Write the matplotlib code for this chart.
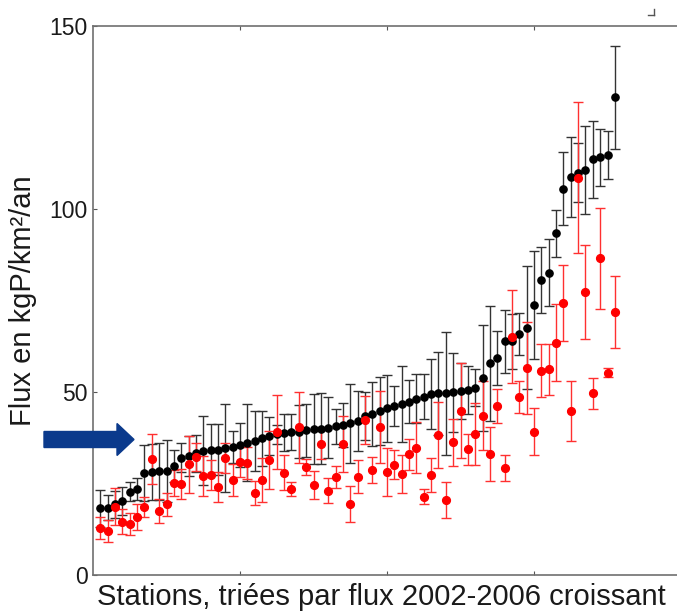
import numpy as np
import matplotlib
matplotlib.use("Agg")
import matplotlib.pyplot as plt
from matplotlib.patches import FancyArrow
from matplotlib.lines import Line2D

plt.rcParams['font.family'] = ['Liberation Sans', 'DejaVu Sans']

# stations sorted by 2002-2006 flux
stations = np.arange(1, 72)

flux_black = [18.2, 18.4, 19.3, 20.3, 22.8, 23.4, 27.8, 28.2, 28.4, 28.4,
              29.8, 32.1, 32.5, 33.2, 34.0, 34.2, 34.2, 34.6, 35.0, 35.5,
              36.1, 36.7, 37.3, 38.0, 38.4, 38.9, 39.0, 39.2, 39.5, 39.8,
              40.0, 40.3, 40.6, 41.0, 41.4, 42.0, 43.4, 44.0, 44.8, 45.5,
              46.2, 46.7, 47.4, 48.1, 48.7, 49.4, 49.6, 49.6, 49.9, 50.3,
              50.5, 51.2, 53.9, 57.8, 59.3, 63.8, 63.8, 65.8, 67.5, 73.8,
              80.6, 82.6, 93.4, 105.6, 108.7, 109.9, 110.7, 113.6, 114.1, 114.8,
              130.5]
err_black = [5, 3.5, 3.6, 3.8, 2.5, 3, 7.7, 7.7, 7.8, 8.5,
             4.4, 3.9, 5.5, 5, 9.5, 7, 7, 12, 4.3, 6,
             10.5, 8.2, 7.6, 5.3, 2.5, 5, 4.9, 7.3, 7.2, 9.6,
             9.6, 8.4, 4.8, 6, 10.7, 8.2, 6.6, 8.8, 9.4, 9.1,
             5.5, 10.4, 5.9, 6.7, 6.1, 9.6, 11.4, 16.9, 10.7, 7.6,
             6.6, 5, 14.5, 15.7, 7.3, 8.7, 7.4, 5.8, 16.8, 14.8,
             9.1, 9.2, 6.4, 10, 11, 8, 12, 10.5, 7.7, 6.6,
             14]

flux_red = [12.8, 12.1, 18.7, 14.6, 13.9, 15.9, 18.5, 31.6, 17.5, 19.3,
            25.1, 24.9, 30.2, 32.3, 27.0, 27.3, 24.1, 31.9, 26.0, 30.9,
            30.6, 22.4, 26.0, 31.4, 39.1, 27.9, 23.5, 40.4, 29.5, 24.6,
            35.8, 23.0, 26.8, 35.8, 19.4, 26.9, 42.3, 28.7, 40.5, 28.1,
            30.1, 27.6, 33.0, 34.8, 21.4, 27.3, 38.3, 20.5, 36.3, 44.9,
            34.3, 38.5, 43.5, 33.0, 46.2, 29.2, 65.1, 48.7, 56.5, 39.2,
            55.8, 56.2, 63.5, 74.2, 44.8, 108.6, 77.4, 49.6, 86.5, 55.3,
            71.9]
err_red = [3, 3, 5, 3.5, 3, 3.5, 2.7, 6.8, 3.4, 3.2,
           3.6, 4, 7.7, 3.9, 5.5, 4.1, 4.1, 4.1, 4.4, 4,
           4.3, 3.4, 6, 8, 10.2, 4.8, 2, 9.7, 2.3, 3.9,
           4, 3.4, 2.9, 7.7, 5, 4.5, 6.6, 3.6, 9.8, 6.6,
           4, 5.3, 4.2, 7, 2, 4.7, 9.1, 4.9, 6.4, 13,
           4.2, 8.4, 9.4, 7.4, 4.6, 3.6, 12.7, 4.4, 12.5, 6.5,
           7.3, 7, 10.6, 10.4, 8.3, 20.7, 12.9, 4.2, 13.9, 1.2,
           9.8]

fig = plt.figure(figsize=(6.77, 6.12), dpi=100)
ax = fig.add_axes([93/677, 37/612, 588/677, 549/612])

ax.errorbar(stations, flux_black, yerr=err_black, fmt='o', color='black',
            ms=5.2, ecolor='#333333', elinewidth=1, capsize=3.6, capthick=1)
ax.errorbar(stations, flux_red, yerr=err_red, fmt='o', color='red',
            ms=5.6, ecolor='#ff3030', elinewidth=1, capsize=3.6, capthick=1)

ax.set_xlim(0, 80)
ax.set_ylim(0, 150)
ax.set_xticks([20, 40, 60])
ax.set_xticklabels([])
ax.set_yticks([0, 50, 100, 150])
ax.tick_params(direction='in', length=3, width=0.8, color='#555555',
               top=True, right=True, labelsize=16.5, labelcolor='#1a1a1a', pad=4)
for s in ax.spines.values():
    s.set_color('#707070')
    s.set_linewidth(1.2)

ax.set_ylabel("Flux en kgP/km²/an", fontsize=21, color='#1a1a1a')
ax.yaxis.set_label_coords(-0.096, 0.5)
ax.set_xlabel("Stations, triées par flux 2002-2006 croissant", fontsize=21,
              color='#1a1a1a')
ax.xaxis.set_label_coords(0.49, -0.014)

# blue arrow pointing at the plot
arrow = FancyArrow(0.44, 1.725, 0.73, 0, width=0.16, head_width=0.32,
                   head_length=0.17, length_includes_head=False,
                   color='#0b3a8c', transform=fig.dpi_scale_trans)
fig.add_artist(arrow)

# small corner mark top right
fig.add_artist(Line2D([648/677, 654/677], [1-15/612, 1-15/612],
                      color='#555555', lw=1, transform=fig.transFigure))
fig.add_artist(Line2D([654/677, 654/677], [1-15/612, 1-9/612],
                      color='#555555', lw=1, transform=fig.transFigure))

fig.savefig("out.png", dpi=100)
